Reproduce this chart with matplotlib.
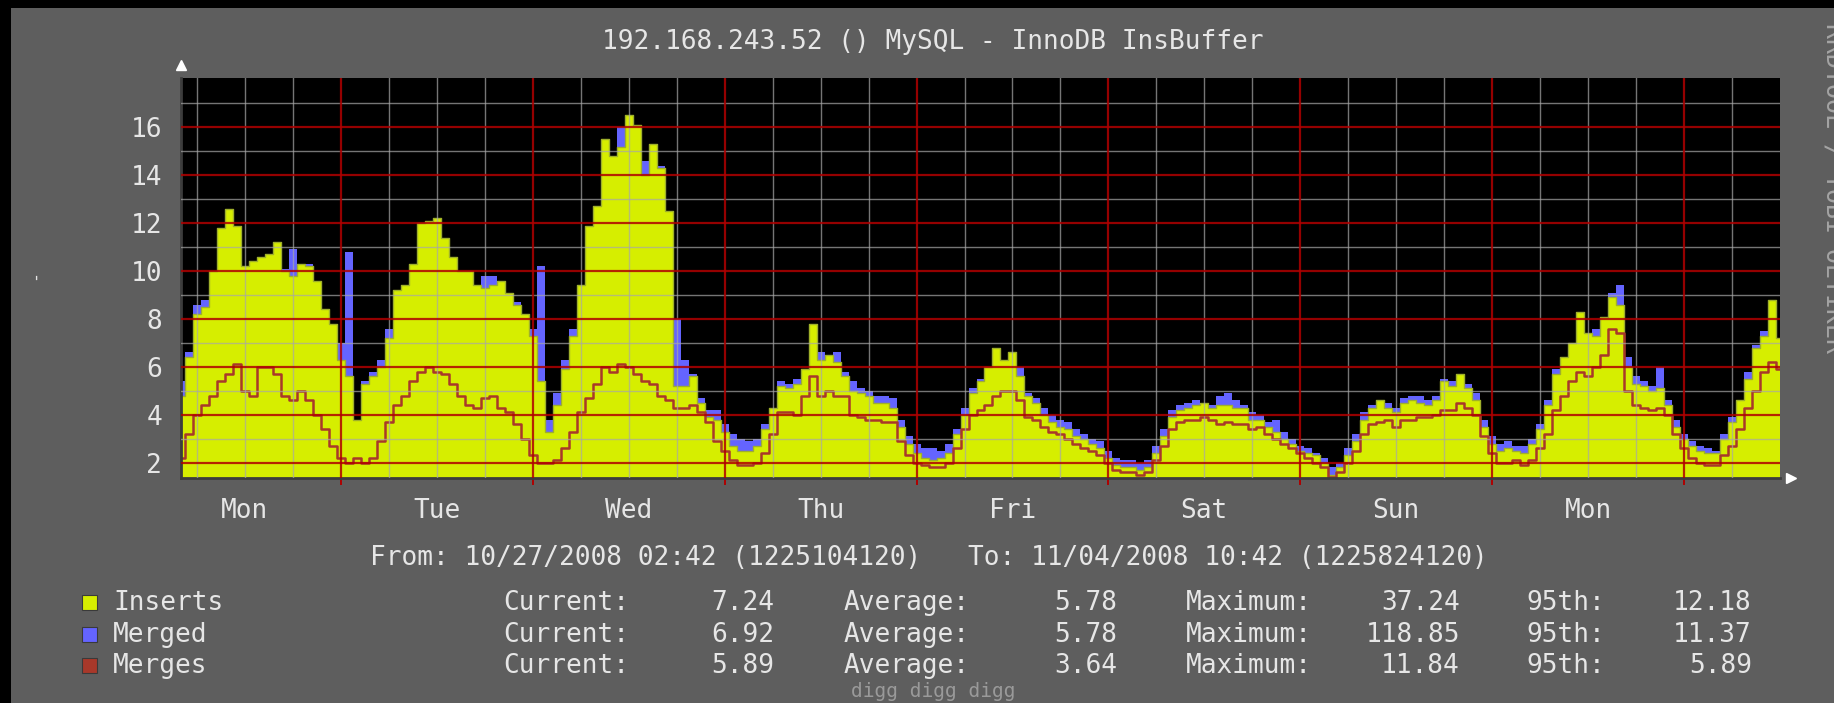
import matplotlib.pyplot as plt
import numpy as np
from matplotlib.patches import Rectangle

W, H = 1834, 703

# one sample per hour since 10/27/2008 02:42
hours = np.arange(0, 201)

inserts = [
    4.8, 6.4, 8.2, 8.5, 10.0, 11.8, 12.6, 11.9, 10.2, 10.4,
    10.6, 10.7, 11.2, 10.0, 9.8, 10.3, 10.2, 9.6, 8.4, 7.8,
    6.3, 5.6, 3.8, 5.3, 5.6, 6.0, 7.2, 9.2, 9.4, 10.3,
    12.0, 12.1, 12.2, 11.4, 10.6, 10.0, 10.0, 9.4, 9.3, 9.4,
    9.6, 9.1, 8.6, 8.2, 7.3, 5.4, 3.3, 4.4, 5.9, 7.3,
    9.4, 11.9, 12.7, 15.5, 14.8, 15.2, 16.5, 16.1, 14.0, 15.3,
    14.3, 12.5, 5.2, 5.2, 5.6, 4.5, 3.9, 3.8, 3.3, 2.7,
    2.5, 2.5, 2.7, 3.4, 4.3, 5.2, 5.1, 5.3, 5.9, 7.8,
    6.3, 6.5, 6.2, 5.6, 5.0, 4.9, 4.8, 4.5, 4.5, 4.3,
    3.5, 2.8, 2.4, 2.2, 2.1, 2.2, 2.4, 3.2, 4.0, 4.9,
    5.4, 6.0, 6.8, 6.3, 6.6, 5.6, 4.8, 4.5, 4.0, 3.7,
    3.5, 3.4, 3.1, 3.0, 2.8, 2.6, 2.2, 1.9, 1.8, 1.8,
    1.7, 1.8, 2.4, 3.1, 3.9, 4.2, 4.3, 4.4, 4.5, 4.3,
    4.4, 4.4, 4.3, 4.3, 3.8, 3.8, 3.5, 3.3, 3.0, 2.8,
    2.5, 2.4, 2.3, 2.0, 1.5, 1.8, 2.3, 2.9, 3.8, 4.3,
    4.6, 4.3, 4.1, 4.5, 4.6, 4.5, 4.4, 4.6, 5.4, 5.2,
    5.7, 5.1, 4.6, 3.5, 2.8, 2.5, 2.6, 2.5, 2.4, 2.8,
    3.4, 4.4, 5.7, 6.4, 7.0, 8.3, 7.4, 7.3, 8.1, 8.9,
    8.6, 6.0, 5.3, 5.2, 5.0, 5.1, 4.4, 3.5, 3.0, 2.7,
    2.5, 2.4, 2.4, 3.0, 3.7, 4.6, 5.5, 6.8, 7.3, 8.8,
    7.2,
]

merged = [
    5.4, 6.6, 8.6, 8.8, 9.8, 11.0, 11.6, 11.3, 9.9, 10.0,
    9.9, 10.2, 10.4, 10.1, 10.9, 10.0, 10.3, 9.4, 8.2, 7.6,
    7.0, 10.8, 3.5, 5.4, 5.8, 6.3, 7.6, 8.9, 9.2, 9.4,
    11.0, 11.5, 12.0, 11.2, 10.2, 9.6, 9.3, 9.0, 9.8, 9.8,
    9.4, 9.0, 8.7, 8.1, 7.6, 10.2, 3.8, 4.9, 6.3, 7.6,
    9.2, 11.4, 12.2, 14.3, 13.9, 16.0, 16.3, 15.6, 14.6, 14.0,
    14.4, 12.5, 8.0, 6.3, 5.7, 4.7, 4.2, 4.2, 3.6, 3.2,
    3.0, 2.9, 3.0, 3.6, 4.3, 5.4, 5.3, 5.5, 5.9, 6.8,
    6.6, 6.4, 6.6, 5.8, 5.4, 5.1, 5.0, 4.8, 4.8, 4.7,
    3.8, 3.1, 2.8, 2.6, 2.6, 2.5, 2.8, 3.4, 4.3, 5.1,
    5.5, 6.0, 6.2, 6.0, 6.2, 6.0, 4.9, 4.7, 4.3, 4.0,
    3.8, 3.7, 3.4, 3.2, 3.0, 2.9, 2.5, 2.2, 2.1, 2.1,
    2.0, 2.1, 2.7, 3.4, 4.2, 4.4, 4.5, 4.6, 4.5, 4.4,
    4.8, 4.9, 4.6, 4.4, 4.1, 4.0, 3.7, 3.8, 3.3, 3.0,
    2.7, 2.6, 2.4, 2.2, 1.8, 2.0, 2.6, 3.2, 4.1, 4.4,
    4.4, 4.5, 4.3, 4.7, 4.8, 4.8, 4.6, 4.8, 5.5, 5.4,
    5.6, 5.3, 4.9, 3.8, 3.1, 2.8, 2.9, 2.7, 2.7, 3.0,
    3.6, 4.6, 5.9, 6.2, 6.8, 7.4, 7.2, 7.6, 7.6, 9.1,
    9.4, 6.4, 5.6, 5.4, 5.2, 6.0, 4.6, 3.8, 3.2, 2.9,
    2.7, 2.6, 2.5, 3.2, 3.9, 4.5, 5.8, 6.9, 7.5, 8.5,
    6.9,
]

merges = [
    2.2, 3.2, 4.0, 4.4, 4.8, 5.4, 5.7, 6.1, 5.0, 4.8,
    6.0, 6.0, 5.7, 4.8, 4.6, 5.0, 4.6, 4.0, 3.4, 2.7,
    2.2, 2.0, 2.2, 2.0, 2.2, 2.9, 3.7, 4.4, 4.8, 5.4,
    5.8, 6.0, 5.8, 5.7, 5.3, 4.8, 4.4, 4.3, 4.7, 4.8,
    4.3, 4.1, 3.6, 3.0, 2.3, 2.0, 2.0, 2.1, 2.6, 3.3,
    4.1, 4.7, 5.3, 6.0, 5.8, 6.1, 6.0, 5.7, 5.4, 5.3,
    4.8, 4.6, 4.3, 4.3, 4.4, 4.1, 3.7, 2.9, 2.5, 2.1,
    1.9, 1.9, 2.0, 2.4, 3.2, 4.1, 4.1, 4.0, 4.8, 5.6,
    4.8, 5.0, 4.8, 4.8, 4.0, 3.9, 3.8, 3.8, 3.7, 3.7,
    2.9, 2.3, 2.0, 1.9, 1.8, 1.8, 2.0, 2.6, 3.4, 4.0,
    4.2, 4.4, 4.8, 5.0, 5.0, 4.6, 3.9, 3.8, 3.5, 3.3,
    3.2, 3.0, 2.8, 2.6, 2.5, 2.3, 2.0, 1.7, 1.6, 1.6,
    1.5, 1.6, 2.1, 2.7, 3.4, 3.7, 3.8, 3.8, 3.9, 3.8,
    3.6, 3.7, 3.6, 3.6, 3.4, 3.5, 3.2, 3.0, 2.8, 2.6,
    2.4, 2.2, 2.0, 1.8, 1.4, 1.6, 2.0, 2.5, 3.2, 3.6,
    3.7, 3.8, 3.5, 3.8, 3.8, 3.9, 3.9, 4.0, 4.2, 4.2,
    4.5, 4.3, 4.0, 3.1, 2.4, 2.0, 2.0, 2.1, 1.9, 2.1,
    2.6, 3.2, 4.2, 4.8, 5.4, 5.8, 5.6, 6.0, 6.5, 7.6,
    7.4, 5.0, 4.4, 4.3, 4.2, 4.3, 4.0, 3.2, 2.6, 2.2,
    2.0, 1.9, 1.9, 2.3, 2.7, 3.4, 4.3, 5.0, 5.8, 6.2,
    5.9,
]

day_names = ['Mon', 'Tue', 'Wed', 'Thu', 'Fri', 'Sat', 'Sun', 'Mon']
day_noon = [8 + 24 * i for i in range(8)]
midnights = [20 + 24 * i for i in range(8)]
six_hours = [2 + 6 * i for i in range(33)]
y_major = list(range(2, 17, 2))
y_minor = list(range(3, 18, 2))

legend_names = ['Inserts', 'Merged', 'Merges']
legend_colors = ['#d6ee00', '#6464ff', '#a8382a']
current = ['7.24', '6.92', '5.89']
average = ['5.78', '5.78', '3.64']
maximum = ['37.24', '118.85', '11.84']
pct95 = ['12.18', '11.37', '5.89']

title = '192.168.243.52 () MySQL - InnoDB InsBuffer'
span = 'From: 10/27/2008 02:42 (1225104120)'
span_to = 'To: 11/04/2008 10:42 (1225824120)'

FONT = 'DejaVu Sans Mono'
FS = 18.8
TXT = '#e6e6e6'
RED = '#b00000'
GRAY = '#a8a8a8'

fig = plt.figure(figsize=(W / 100, H / 100), dpi=100, facecolor='black')
# grey canvas behind everything, black frame left and top
fig.patches.append(Rectangle((11 / W, 0), 1, 1 - 8 / H, transform=fig.transFigure,
                             facecolor='#5e5e5e', edgecolor='none', zorder=-10))


def put(x, y, s, **kw):
    kw.setdefault('family', FONT)
    kw.setdefault('size', FS)
    kw.setdefault('color', TXT)
    return fig.text(x / W, 1 - y / H, s, **kw)


ax = fig.add_axes([181 / W, 1 - 478 / H, 1599 / W, 400 / H])
ax.set_facecolor('black')
ax.set_xlim(0, 200)
ax.set_ylim(1.36, 18.06)

ax.fill_between(hours, merged, 0, step='mid', color='#6464ff', lw=0, zorder=1)
ax.fill_between(hours, inserts, 0, step='mid', color='#d6ee00', lw=0, zorder=1.1)
ax.plot(hours, inserts, drawstyle='steps-mid', color='#9fb02a', lw=1.0, zorder=1.2)
ax.plot(hours, merges, drawstyle='steps-mid', color='#a8382a', lw=1.8, zorder=1.3)

for v in y_minor:
    ax.axhline(v, color=GRAY, lw=1.0, alpha=0.7, zorder=2.9)
for h in six_hours:
    if h not in midnights:
        ax.axvline(h, color=GRAY, lw=1.0, alpha=0.7, zorder=2.9)
for v in y_major:
    ax.axhline(v, color=RED, lw=1.6, alpha=0.85, zorder=3)
for h in midnights:
    ax.axvline(h, color=RED, lw=1.6, alpha=0.85, zorder=3)
    ax.plot([h, h], [0, -0.015], transform=ax.get_xaxis_transform(),
            color=RED, lw=1.4, clip_on=False)

ax.set_yticks(y_major)
ax.set_yticklabels([str(v) for v in y_major], family=FONT, size=FS, color=TXT)
ax.set_xticks(day_noon)
ax.set_xticklabels(day_names, family=FONT, size=FS, color=TXT, va='baseline')
ax.tick_params(axis='y', length=0, pad=13.5)
ax.tick_params(axis='x', length=0, pad=28.5)

for side in ['top', 'right']:
    ax.spines[side].set_visible(False)
for side in ['left', 'bottom']:
    ax.spines[side].set_color('#3c3c3c')
    ax.spines[side].set_linewidth(2)

ax.plot([0], [1.0325], marker='^', color='white', ms=7.5,
        transform=ax.transAxes, clip_on=False)
ax.plot([1.007], [0], marker='>', color='white', ms=7.5,
        transform=ax.transAxes, clip_on=False)

put(933, 49, title, ha='center', va='baseline')
put(34, 275, '-', rotation=90, size=12, ha='center', va='center')
put(1826, 23, 'RRDTOOL / TOBI OETIKER', rotation=-90, rotation_mode='anchor',
    ha='left', va='baseline', color='#a4a4a4', size=18)

put(370, 565, span, ha='left', va='baseline')
put(968, 565, span_to, ha='left', va='baseline')

rows = [610, 641.5, 673]
for i, name in enumerate(legend_names):
    y = rows[i]
    fig.patches.append(Rectangle((82 / W, 1 - y / H), 15 / W, 15 / H,
                                 transform=fig.transFigure, facecolor=legend_colors[i],
                                 edgecolor='#3a3a3a', lw=0.8, zorder=2))
    put(113, y, name, ha='left', va='baseline')
    put(503, y, 'Current:', ha='left', va='baseline')
    put(774, y, current[i], ha='right', va='baseline')
    put(844, y, 'Average:', ha='left', va='baseline')
    put(1117, y, average[i], ha='right', va='baseline')
    put(1186, y, 'Maximum:', ha='left', va='baseline')
    put(1460, y, maximum[i], ha='right', va='baseline')
    put(1526, y, '95th:', ha='left', va='baseline')
    put(1752, y, pct95[i], ha='right', va='baseline')

put(933, 697, 'digg digg digg', ha='center', va='baseline', size=14, color='#9a9a9a')

fig.savefig('out.png', dpi=100, facecolor=fig.get_facecolor())
